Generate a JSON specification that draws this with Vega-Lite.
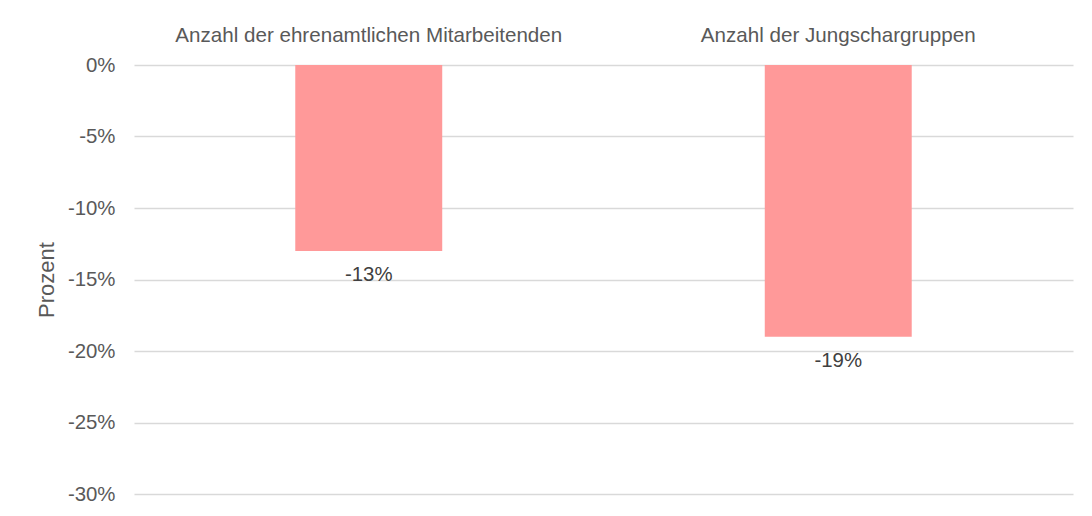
{
  "$schema": "https://vega.github.io/schema/vega-lite/v6.json",
  "autosize": "none",
  "width": 939,
  "height": 429,
  "padding": {"left": 134, "top": 65, "right": 19, "bottom": 22},
  "background": "white",
  "config": {
    "view": {"stroke": null},
    "font": "Liberation Sans"
  },
  "data": {
    "values": [
      {"kategorie": "Anzahl der ehrenamtlichen Mitarbeitenden", "wert": -13, "label": "-13%"},
      {"kategorie": "Anzahl der Jungschargruppen", "wert": -19, "label": "-19%"}
    ]
  },
  "encoding": {
    "x": {
      "field": "kategorie",
      "type": "nominal",
      "sort": null,
      "scale": {"paddingInner": 0, "paddingOuter": 0},
      "axis": {
        "orient": "top",
        "title": null,
        "domain": false,
        "ticks": false,
        "labelAngle": 0,
        "labelPadding": 24,
        "labelBaseline": "alphabetic",
        "labelFontSize": 20.6,
        "labelColor": "#595959",
        "labelFont": "Liberation Sans",
        "labelLimit": 0
      }
    },
    "y": {
      "field": "wert",
      "type": "quantitative",
      "scale": {"domain": [-30, 0], "nice": false},
      "axis": {
        "title": "Prozent",
        "values": [0, -5, -10, -15, -20, -25, -30],
        "labelExpr": "datum.value + '%'",
        "domain": false,
        "ticks": false,
        "labelPadding": 19,
        "labelFontSize": 20.4,
        "labelColor": "#595959",
        "labelFont": "Liberation Sans",
        "gridColor": "#d9d9d9",
        "gridWidth": 1.3,
        "titleFontSize": 22,
        "titleFontWeight": "normal",
        "titleColor": "#595959",
        "titleFont": "Liberation Sans",
        "titleX": -88,
        "titleY": 214.5,
        "titleAngle": -90,
        "titleAlign": "center",
        "titleBaseline": "middle"
      }
    }
  },
  "layer": [
    {
      "mark": {"type": "bar", "color": "#ff9999", "width": {"band": 0.313}}
    },
    {
      "mark": {
        "type": "text",
        "baseline": "alphabetic",
        "dy": 30,
        "fontSize": 20.4,
        "color": "#404040",
        "font": "Liberation Sans"
      },
      "encoding": {"text": {"field": "label"}}
    }
  ]
}
